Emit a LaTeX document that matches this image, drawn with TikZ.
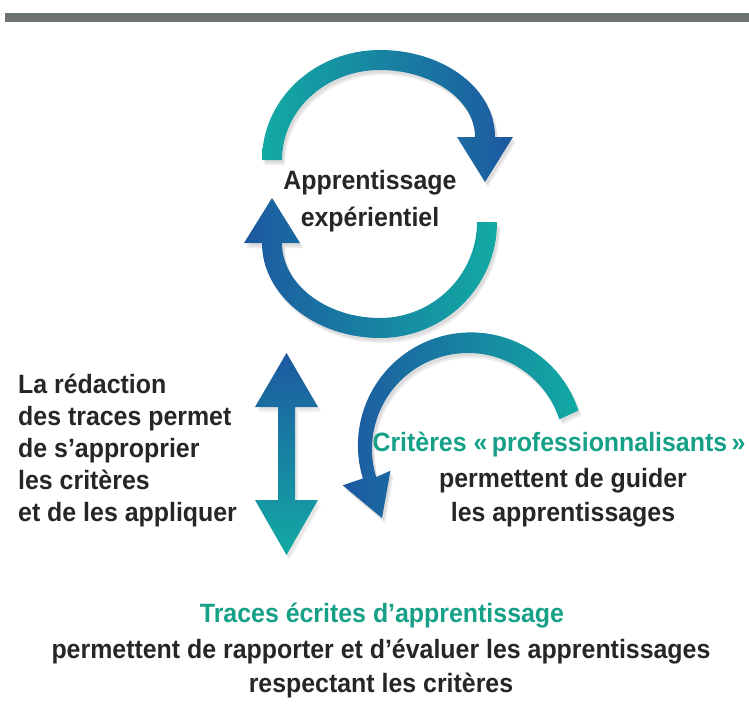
\documentclass[tikz,border=0pt]{standalone}
\usepackage{fontspec}
\setmainfont{Liberation Sans}[FakeStretch=0.94]
\definecolor{tealA}{RGB}{18,170,163}
\definecolor{blueA}{RGB}{29,89,161}
\definecolor{txt}{RGB}{38,38,38}
\definecolor{tealT}{RGB}{22,160,136}
\definecolor{barG}{RGB}{108,117,115}
\def\toparc{(262,160) .. controls (262,99) and (315,50) .. (380,50) .. controls (443,50) and (495,88) .. (495,137) -- (513,137) -- (485,182) -- (457,137) -- (475,137) .. controls (475,100) and (432,70) .. (380,70) .. controls (326,70) and (282,110) .. (282,160) -- cycle}
\def\botarc{(497,222) .. controls (497,286) and (445,338) .. (380,338) .. controls (315,338) and (262,295) .. (262,243) -- (244,243) -- (272,198) -- (300,243) -- (282,243) .. controls (282,284) and (326,318) .. (380,318) .. controls (433,318) and (477,275) .. (477,222) -- cycle}
\def\rightarc{(578.4,410.5) arc[start angle=-18, end angle=-197, radius=113] -- (342.7,485.3) -- (382,518) -- (390.5,470.7) -- ({468+96*cos(197)},{449-96*sin(197)}) arc[start angle=-197, end angle=-18, radius=96] -- cycle}
\def\dblarrow{(286.5,353) -- (318,407) -- (295,407) -- (295,500) -- (318,500) -- (286.5,555) -- (255,500) -- (278,500) -- (278,407) -- (255,407) -- cycle}
\begin{document}
\begin{tikzpicture}[x=1pt,y=-1pt,
  lbl/.style={font=\fontsize{26.5}{32}\selectfont\bfseries, text=txt, inner sep=0pt},
  hl/.style={lbl, text=tealT},
  shadowA/.style={fill=black, opacity=0.07},
  shadowB/.style={fill=black, opacity=0.05}]
\useasboundingbox (0,0) rectangle (749,712);
% top bar
\fill[barG] (5,13) rectangle (749,22);
% shadows
\foreach \sx/\sy in {2/3,3/5}{
  \fill[shadowA, shift={(\sx,\sy)}] \toparc;
  \fill[shadowA, shift={(\sx,\sy)}] \botarc;
  \fill[shadowA, shift={(\sx,\sy)}] \rightarc;
  \fill[shadowB, shift={(\sx,\sy)}] \dblarrow;
}
% arrows
\shade[left color=tealA, right color=blueA] \toparc;
\shade[left color=blueA, right color=tealA] \botarc;
\shade[left color=blueA, right color=tealA] \rightarc;
\shade[top color=blueA, bottom color=tealA] \dblarrow;
% centre text
\node[lbl, anchor=base] (exp1) at (370,189) {Apprentissage};
\node[lbl, anchor=base] (exp2) at (370,226) {expérientiel};
% left text
\node[lbl, anchor=base west] (l1) at (18,393) {La rédaction};
\node[lbl, anchor=base west] (l2) at (18,425) {des traces permet};
\node[lbl, anchor=base west] (l3) at (18,457) {de s’approprier};
\node[lbl, anchor=base west] (l4) at (18,489) {les critères};
\node[lbl, anchor=base west] (l5) at (18,521) {et de les appliquer};
% right text
\node[hl, anchor=base] (r1) at (559,451) {Critères «\,professionnalisants\,»};
\node[lbl, anchor=base] (r2) at (563,487) {permettent de guider};
\node[lbl, anchor=base] (r3) at (563,521) {les apprentissages};
% bottom text
\node[hl, anchor=base] (b1) at (382,622) {Traces écrites d’apprentissage};
\node[lbl, anchor=base] (b2) at (381,658) {permettent de rapporter et d’évaluer les apprentissages};
\node[lbl, anchor=base] (b3) at (381,692) {respectant les critères};
\end{tikzpicture}
\end{document}
